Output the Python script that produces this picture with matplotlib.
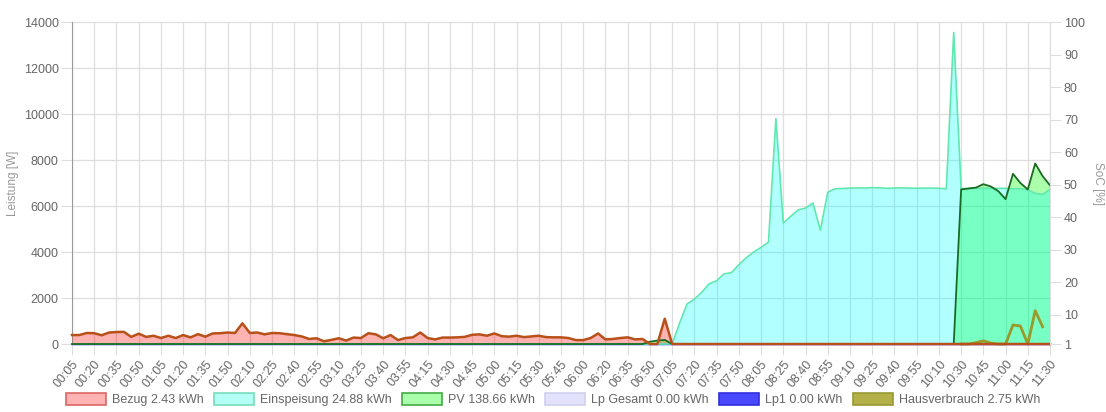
import numpy as np
import matplotlib
matplotlib.use('Agg')
import matplotlib.pyplot as plt
from matplotlib.patches import Patch

plt.rcParams['font.family'] = ['Liberation Sans', 'DejaVu Sans']

# x tick labels (one every 3 samples)
TICK_LABELS = ['00:05', '00:20', '00:35', '00:50', '01:05', '01:20', '01:35', '01:50',
               '02:10', '02:25', '02:40', '02:55', '03:10', '03:25', '03:40', '03:55',
               '04:15', '04:30', '04:45', '05:00', '05:15', '05:30', '05:45', '06:00',
               '06:20', '06:35', '06:50', '07:05', '07:20', '07:35', '07:50', '08:05',
               '08:25', '08:40', '08:55', '09:10', '09:25', '09:40', '09:55', '10:10',
               '10:30', '10:45', '11:00', '11:15', '11:30']

nan = np.nan

bezug = [390, 390, 480, 470, 380, 500, 520, 530, 310, 450,
         310, 360, 260, 360, 260, 390, 290, 430, 320, 460,
         470, 500, 480, 900, 480, 500, 420, 480, 470, 430,
         390, 330, 220, 250, 120, 180, 250, 150, 280, 260,
         470, 420, 250, 390, 170, 260, 290, 500, 260, 200,
         280, 280, 290, 310, 400, 420, 360, 460, 340, 320,
         360, 300, 330, 360, 300, 290, 290, 260, 170, 170,
         260, 460, 200, 220, 260, 290, 200, 220, 0, 0,
         1100] + [0] * 52

einspeisung = [0] * 82 + [900, 1740, 1950, 2250, 2620, 2750, 3050, 3100,
                          3450, 3750, 4000, 4200, 4430, 9800, 5260, 5550, 5830, 5910,
                          6130, 4950, 6600, 6750, 6760, 6780, 6790, 6780, 6800, 6790,
                          6770, 6780, 6790, 6780, 6770, 6780, 6780, 6770, 6750, 13550,
                          6750, 6770, 6770, 6770, 6770, 6770, 6770, 6750, 6750, 6700,
                          6550, 6500, 6720]

pv = [0] * 78 + [100, 150, 180, 0] + [0] * 38 + [6720, 6760, 6800, 6950, 6850, 6650, 6300,
                                                 7400, 7000, 6720, 7850, 7300, 6900]

lp_gesamt = [0] * 133
lp1 = [0] * 133

hausverbrauch = [nan] * 120 + [0, 0, 60, 140, 40, 0, 0, 830, 780, 0, 1450, 750, nan]

x = np.arange(len(bezug))

fig = plt.figure(figsize=(11.06, 4.12), dpi=100)
ax = fig.add_axes([0.0651, 0.165, 0.8843, 0.7816])

grid_c = '#dedede'
txt_c = '#666666'
fs = 9

# fills
ax.fill_between(x, pv, color=(0, 1, 0), alpha=0.33, linewidth=0, zorder=2)
ax.fill_between(x, einspeisung, color=(0, 1, 1), alpha=0.3, linewidth=0, zorder=3)
ax.fill_between(x, bezug, color=(1, 0, 0), alpha=0.3, linewidth=0, zorder=4)

# lines
ax.plot(x, lp_gesamt, color='#ccccee', lw=1, zorder=4.5, clip_on=False)
ax.plot(x, lp1, color='#3333ff', lw=1, zorder=4.6, clip_on=False)
ax.plot(x, einspeisung, color='#5fe8b0', lw=1.2, zorder=5, clip_on=False)
ax.plot(x, pv, color='#1a6a22', lw=1.3, zorder=6, clip_on=False)
ax.plot(x, hausverbrauch, color='#9a9a2c', lw=2, zorder=6.5, clip_on=False)
ax.plot(x, bezug, color='#b8501a', lw=1.8, zorder=7, clip_on=False)

ax.set_xlim(0, len(x) - 1)
ax.set_ylim(0, 14000)
ax.set_yticks(np.arange(0, 14001, 2000))
ax.set_xticks(x[::3])
ax.set_xticklabels(TICK_LABELS, rotation=50, ha='right', rotation_mode='anchor')
ax.grid(True, color=grid_c, lw=0.9, zorder=0)
ax.tick_params(axis='both', colors=grid_c, labelcolor=txt_c, labelsize=fs, length=8)
ax.tick_params(axis='y', pad=1.5)
ax.tick_params(axis='x', pad=2)
ax.set_ylabel('Leistung [W]', color='#999999', fontsize=8.5)
ax.yaxis.set_label_coords(-0.054, 0.5)

for side in ['top', 'right', 'bottom']:
    ax.spines[side].set_visible(False)
ax.spines['left'].set_color('#999999')

ax2 = ax.twinx()
ax2.set_ylim(1, 100)
ax2.set_yticks([1, 10, 20, 30, 40, 50, 60, 70, 80, 90, 100])
ax2.tick_params(axis='y', colors=grid_c, labelcolor=txt_c, labelsize=fs, length=8, pad=2)
for side in ['top', 'left', 'bottom']:
    ax2.spines[side].set_visible(False)
ax2.spines['right'].set_color(grid_c)
ax2.set_ylabel('SoC [%]', color='#999999', fontsize=8.5, rotation=270, va='center')
ax2.yaxis.set_label_coords(1.049, 0.5)

handles = [
    Patch(facecolor='#ffb3b3', edgecolor='#dd6666', lw=1.2, label='Bezug 2.43 kWh'),
    Patch(facecolor='#b3fff6', edgecolor='#77ddbb', lw=1.2, label='Einspeisung 24.88 kWh'),
    Patch(facecolor='#aaffaa', edgecolor='#44aa44', lw=1.2, label='PV 138.66 kWh'),
    Patch(facecolor='#e2e2fa', edgecolor='#d0d0ee', lw=1.2, label='Lp Gesamt 0.00 kWh'),
    Patch(facecolor='#4848ff', edgecolor='#3030dd', lw=1.2, label='Lp1 0.00 kWh'),
    Patch(facecolor='#b3b048', edgecolor='#999933', lw=1.2, label='Hausverbrauch 2.75 kWh'),
]
leg = fig.legend(handles=handles, loc='center', bbox_to_anchor=(0.5, 0.03), ncol=6,
                 frameon=False, fontsize=fs, handlelength=3.2, handleheight=1.1,
                 handletextpad=0.5, columnspacing=0.8)
for t in leg.get_texts():
    t.set_color(txt_c)

fig.savefig('out.png', dpi=100)
